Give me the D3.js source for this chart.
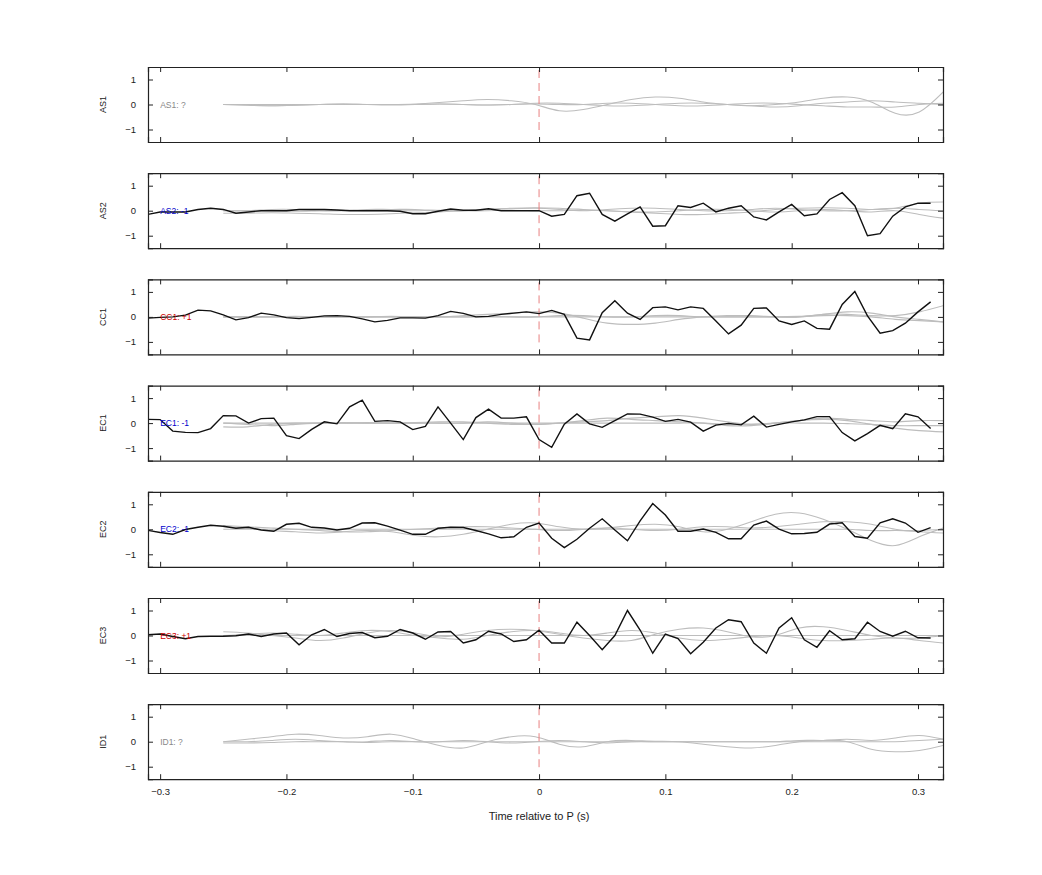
<!DOCTYPE html>
<html>
<head>
<meta charset="utf-8">
<script src="https://cdn.jsdelivr.net/npm/d3@7"></script>
<style>
body { margin: 0; background: #fff; }
text { font-family: "Liberation Sans", Arial, sans-serif; }
</style>
</head>
<body>
<svg id="chart" width="1042" height="875"></svg>
<script>
var channels = ["AS1", "AS2", "CC1", "EC1", "EC2", "EC3", "ID1"];
var polarity = ["?", "-1", "+1", "-1", "-1", "+1", "?"];
var labelColor = { "?": "#888", "-1": "#0000cc", "+1": "#cc0000" };

// black traces sampled every 0.01 s from -0.32 to 0.31
var blackStart = -0.32, blackStep = 0.01;
var blackAS2 = [0,-0.15,-0.05,-0.05,-0.05,0.05,0.1,0.05,-0.1,-0.05,0,0,0,0.05,0.05,0.05,0.03,0,0,0,0,-0.02,-0.12,-0.12,-0.02,0.07,0.02,0.02,0.08,0,0,0,
  0,-0.22,-0.15,0.6,0.7,-0.15,-0.42,-0.13,0.15,-0.62,-0.6,0.2,0.13,0.3,-0.05,0.1,0.2,-0.25,-0.37,-0.05,0.25,-0.2,-0.13,0.45,0.72,0.2,-1.0,-0.92,-0.22,0.15,0.3,0.3];
var blackCC1 = [0,-0.05,-0.02,0,0.07,0.27,0.24,0.08,-0.12,-0.03,0.15,0.08,-0.03,-0.07,-0.02,0.04,0.05,0.02,-0.08,-0.2,-0.14,-0.04,-0.04,-0.05,0.05,0.22,0.14,0,0.02,0.1,0.15,0.2,
  0.13,0.26,0.1,-0.85,-0.92,0.17,0.65,0.15,-0.1,0.37,0.4,0.28,0.4,0.34,-0.16,-0.68,-0.33,0.34,0.36,-0.16,-0.3,-0.16,-0.46,-0.49,0.5,1.02,0.04,-0.65,-0.55,-0.25,0.2,0.6];
var blackEC1 = [0,0.15,0.14,-0.32,-0.37,-0.38,-0.22,0.3,0.29,0,0.18,0.2,-0.5,-0.62,-0.25,0.05,-0.03,0.65,0.92,0.07,0.1,0.05,-0.26,-0.13,0.65,0,-0.66,0.22,0.56,0.2,0.2,0.25,
  -0.66,-0.97,-0.04,0.37,-0.03,-0.17,0.1,0.37,0.36,0.24,0.07,0.15,0.04,-0.32,-0.08,-0.01,-0.07,0.28,-0.16,-0.05,0.05,0.13,0.26,0.26,-0.38,-0.71,-0.42,-0.09,-0.22,0.37,0.25,-0.22];
var blackEC2 = [-0.18,-0.04,-0.13,-0.2,-0.01,0.08,0.16,0.12,0.04,0.08,-0.03,-0.08,0.2,0.24,0.08,0.05,-0.03,0.04,0.25,0.26,0.13,-0.03,-0.2,-0.2,0.04,0.08,0.07,-0.05,-0.18,-0.34,-0.3,0.08,
  0.25,-0.36,-0.73,-0.4,0.04,0.42,-0.03,-0.46,0.34,1.03,0.57,-0.08,-0.08,0.01,-0.12,-0.38,-0.38,0.17,0.33,0.01,-0.18,-0.17,-0.12,0.21,0.26,-0.29,-0.36,0.26,0.42,0.25,-0.12,0.07];
var blackEC3 = [0,0.03,0.06,-0.04,-0.13,-0.04,-0.03,-0.03,-0.01,0.06,-0.04,0.06,0.1,-0.37,0.03,0.24,-0.04,0.08,0.12,-0.09,-0.03,0.24,0.1,-0.15,0.14,0.16,-0.3,-0.17,0.17,0.06,-0.24,-0.17,
  0.21,-0.3,-0.3,0.53,0,-0.57,0,1.0,0.22,-0.71,0.06,-0.12,-0.73,-0.27,0.3,0.63,0.55,-0.3,-0.71,0.3,0.71,-0.17,-0.47,0.19,-0.17,-0.13,0.53,0.16,-0.03,0.17,-0.09,-0.1];
var blackSeries = [null, blackAS2, blackCC1, blackEC1, blackEC2, blackEC3, null];

// gray traces sampled every 0.019 s from -0.25 to 0.32
var grayStart = -0.25, grayStep = 0.019;
var grayAS1 = [
  [0,0,0,0,0,0,0,0,0.02,0.08,0.15,0.2,0.15,0,-0.25,-0.2,0,0.2,0.3,0.25,0.1,0,-0.05,0,0.1,0.25,0.3,0.1,-0.35,-0.3,0.5],
  [0,-0.02,-0.05,-0.03,0,0.02,0,-0.02,0,0.02,0,-0.02,0,0.05,0.05,0,-0.05,-0.05,0,0.05,0.05,0,-0.05,-0.1,-0.05,0.05,0.1,0.15,0.1,0.05,0],
  [0,-0.03,-0.05,-0.03,0,0.02,0,0,0,0.02,0,-0.02,0,0.02,0,0,0.05,0.05,0,-0.05,-0.05,0,0.05,0.05,0,-0.05,-0.1,-0.1,-0.1,0,0.05]];
var grayAS2 = [
  [-0.1,-0.1,-0.08,-0.1,-0.12,-0.15,-0.15,-0.12,-0.08,-0.05,0,0.05,0.1,0.12,0.1,0.05,0,-0.05,-0.1,-0.15,-0.15,-0.1,-0.05,0.05,0.1,0.12,0.1,0.05,0.1,0.3,0.35],
  [0,0,0.05,0.05,0,0,0.05,0.05,0.05,0,0,0.05,0.08,0.1,0.05,0,0.05,0.1,0.1,0.05,0,0,0.05,0.1,0.05,0,0,0.05,0.1,0.05,0],
  [0,0,0,-0.02,0,0.02,0,0,0,0.02,0,0,0.02,0,0,0.02,0,-0.05,-0.05,0,0.05,0.05,0,-0.05,0,0.05,0,-0.05,0,-0.15,-0.3]];
var grayCC1 = [
  [0,0,0,0,0,0,0,0,0,0,0.05,0.1,0.15,0.2,0.15,-0.05,-0.25,-0.3,-0.25,-0.1,0,0.05,0.05,0,0,0.1,0.2,0.15,0,-0.1,-0.2],
  [0,0,0,0.02,0,0,0,0.02,0,0,0,0.02,0,0,0.05,0.05,0,0,0.05,0.05,0,0,0,0,0,0.1,0.1,0.05,0.05,0.2,0.45],
  [0,0,0,0,0,0,0,0,0,0,0,0,0,0,0,0,0,0,0,0,0,0,0,0,0.02,0.05,0.05,0,-0.1,-0.15,-0.2]];
var grayEC1 = [
  [-0.15,-0.15,-0.05,0,0,0,0,0,0.02,0.05,0.05,0,-0.05,-0.05,0,0.05,0.1,0.2,0.25,0.3,0.2,0.05,-0.05,0,0.1,0.15,0.1,-0.05,-0.2,-0.3,-0.35],
  [0,-0.05,-0.1,-0.05,0,0.02,0,0,0,0,0,0.05,0,-0.05,0,0.1,0.2,0.15,0.1,0.05,0,-0.1,-0.1,0,0.1,0.2,0.15,0.1,0.05,0.1,0.1],
  [0,0,0,0,0,0,0.02,0,0,0,0,0,0,0,0,0,0,0,0,0,0,-0.05,-0.05,0,0,0,-0.02,-0.05,-0.1,-0.1,-0.1]];
var grayEC2 = [
  [0.1,0.05,-0.05,-0.1,-0.15,-0.1,-0.05,-0.1,-0.25,-0.3,-0.2,0,0.2,0.25,0.1,0,0.05,0.15,0.2,0.1,-0.1,0,0.3,0.6,0.65,0.4,0,-0.45,-0.65,-0.3,0.05],
  [0.15,0.1,0.05,0,-0.05,-0.1,-0.1,-0.05,0,0.05,0.1,0.1,0.05,0,-0.05,0,0.05,0,-0.05,0,0.1,0.1,0.05,0.1,0.2,0.3,0.3,0.2,0,-0.1,-0.15],
  [0,0,0,0,0,0,0,0,0,0,0,0,0,0,0,0,0,0,0,0,0,0,0,0,0,0,0,-0.05,-0.05,-0.05,0]];
var grayEC3 = [
  [0.15,0.1,0,-0.1,-0.2,-0.1,0.1,0.2,0.1,-0.05,0.05,0.2,0.25,0.2,0.05,-0.1,-0.2,-0.2,0.05,0.25,0.3,0.15,-0.05,0,0.3,0.35,0.2,0,-0.1,-0.1,0],
  [0,0.05,0.1,0.05,0,0.1,0.2,0.15,0,-0.1,-0.15,0,0.15,0.2,0.1,0,0.1,0.2,0.1,-0.1,-0.2,-0.15,-0.05,0,-0.1,-0.2,-0.2,-0.15,-0.1,-0.2,-0.3],
  [0,0,0,0,0,0,0,0,0,0,0,0,0,0,0,0,0,0,0,0,0,0,0,0,0,0,0,0,0,0,0]];
var grayID1 = [
  [0,0.1,0.2,0.3,0.25,0.15,0.2,0.3,0.1,-0.15,-0.25,0,0.2,0.2,-0.1,-0.2,0,0.05,0.02,0,-0.1,-0.2,-0.25,-0.15,0,0.05,0.1,0.05,0.15,0.25,0.1],
  [0,0,0.05,0.1,0.05,0,0,0.05,0,0,0.05,0,-0.05,0,0.05,0,-0.05,0,0,0,0,0,0,0,0.05,0.05,0,-0.3,-0.4,-0.35,-0.15],
  [-0.05,-0.05,-0.03,0,0,0,-0.03,0,0,0,0,0,0,0,0,0,0,0,0,0,0,0,0,0,0,0,0,0,0,0.05,0.1]];
var graySeries = [grayAS1, grayAS2, grayCC1, grayEC1, grayEC2, grayEC3, grayID1];

var xTicks = [-0.3, -0.2, -0.1, 0, 0.1, 0.2, 0.3];
var yTicks = [-1, 0, 1];

var svg = d3.select("#chart");
var left = 148, right = 943, panelH = 75, firstTop = 67, gap = 106.2;
var x = d3.scaleLinear().domain([-0.3096, 0.3198]).range([left, right]);

function toPoints(vals, start, step) {
  return vals.map(function(v, i) { return [start + i * step, v]; });
}

svg.append("defs").append("clipPath").attr("id", "clip")
  .append("rect").attr("x", 0).attr("y", 0).attr("width", right - left).attr("height", panelH);

channels.forEach(function(ch, k) {
  var top = firstTop + k * gap;
  var y = d3.scaleLinear().domain([-1.5, 1.5]).range([panelH, 0]);
  var g = svg.append("g").attr("transform", "translate(" + left + "," + top + ")");
  var xl = d3.scaleLinear().domain(x.domain()).range([0, right - left]);

  var body = g.append("g").attr("clip-path", "url(#clip)");
  var smooth = d3.line().x(function(d) { return xl(d[0]); }).y(function(d) { return y(d[1]); }).curve(d3.curveNatural);
  graySeries[k].forEach(function(s) {
    body.append("path").attr("d", smooth(toPoints(s, grayStart, grayStep)))
      .attr("fill", "none").attr("stroke", "#bdbdbd").attr("stroke-width", 1.1);
  });
  body.append("line").attr("x1", xl(0)).attr("x2", xl(0)).attr("y1", y(1.5) + 3).attr("y2", y(-1.2))
    .attr("stroke", "#e88080").attr("stroke-dasharray", "8,5");
  if (blackSeries[k]) {
    var line = d3.line().x(function(d) { return xl(d[0]); }).y(function(d) { return y(d[1]); });
    body.append("path").attr("d", line(toPoints(blackSeries[k], blackStart, blackStep)))
      .attr("fill", "none").attr("stroke", "#111").attr("stroke-width", 1.4);
  }

  g.append("text").attr("x", xl(-0.3)).attr("y", y(0) + 3)
    .attr("font-size", 8.5).attr("fill", labelColor[polarity[k]]).text(ch + ": " + polarity[k]);

  // axes with inward ticks
  var bottom = d3.axisBottom(xl).tickValues(xTicks).tickSize(-5).tickFormat(k === channels.length - 1 ? d3.format("") : "");
  var topAx = d3.axisTop(xl).tickValues(xTicks).tickSize(-5).tickFormat("");
  var leftAx = d3.axisLeft(y).tickValues(yTicks).tickSize(-5).tickPadding(12).tickFormat(d3.format(""));
  var rightAx = d3.axisRight(y).tickValues(yTicks).tickSize(-5).tickFormat("");
  [g.append("g").attr("transform", "translate(0," + panelH + ")").call(bottom).call(function(a){ a.selectAll("text").attr("dy", "1.4em"); }),
   g.append("g").call(topAx),
   g.append("g").call(leftAx),
   g.append("g").attr("transform", "translate(" + (right - left) + ",0)").call(rightAx)].forEach(function(a) {
    a.selectAll(".domain").attr("stroke", "#222").attr("stroke-width", 1.2);
    a.selectAll("line").attr("stroke", "#222");
    a.selectAll("text").attr("font-size", 9.5).attr("fill", "#222").style("font-family", "Liberation Sans, Arial, sans-serif");
  });

  g.append("text").attr("transform", "translate(-42," + y(0) + ") rotate(-90)")
    .attr("text-anchor", "middle").attr("font-size", 9).attr("fill", "#222").text(ch);
});

svg.append("text").attr("x", x(0)).attr("y", 820).attr("text-anchor", "middle")
  .attr("font-size", 11).attr("fill", "#222").text("Time relative to P (s)");
</script>
</body>
</html>
